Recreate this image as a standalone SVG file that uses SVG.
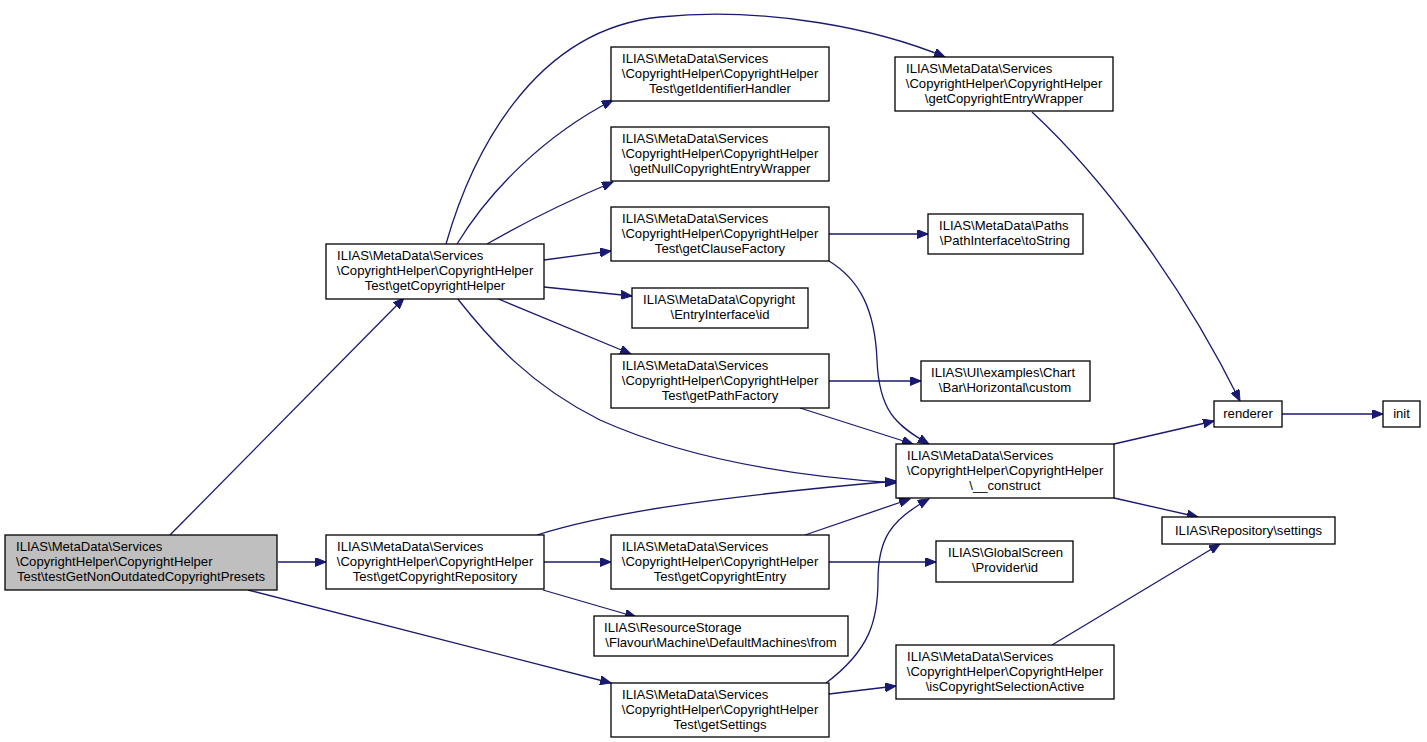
<svg xmlns="http://www.w3.org/2000/svg" width="1427" height="742" viewBox="0 0 1427 742">
<style>
.n rect{fill:#ffffff;stroke:#000000;stroke-width:1.3}
.n.sel rect{fill:#bfbfbf}
.n text{font-family:"Liberation Sans",Arial,Helvetica,sans-serif;font-size:13.1px;fill:#000000}
.s{text-anchor:start}
.m{text-anchor:middle}
#edges path{fill:none;stroke:#191970;stroke-width:1.3;marker-end:url(#arr)}
</style>
<defs>
<marker id="arr" markerUnits="userSpaceOnUse" markerWidth="12" markerHeight="9" refX="11" refY="4.5" orient="auto">
<path d="M0,0 L11,4.5 L0,9 z" fill="#191970" stroke="#191970" stroke-width="1"/>
</marker>
</defs>
<rect width="1427" height="742" fill="#ffffff"/>
<g id="edges">
<path d="M170,535 L404,298"/>
<path d="M278,562 L326,562"/>
<path d="M248,590 L611,683"/>
<path d="M446,244 C470,160 530,30 660,17 C770,6 880,30 945,57"/>
<path d="M457,244 C490,190 545,135 613,100"/>
<path d="M487,244 C520,225 570,200 613,182"/>
<path d="M544,260 L611,251"/>
<path d="M544,287 L632,296"/>
<path d="M496,298 L631,354"/>
<path d="M457,298 C490,340 530,385 600,420 C700,465 820,478 896,483"/>
<path d="M537,535 C600,515 700,498 896,481"/>
<path d="M544,562 L611,562"/>
<path d="M543,590 L636,617"/>
<path d="M829,234 L928,234"/>
<path d="M829,261 C860,280 875,310 877,360 C879,410 895,425 929,444"/>
<path d="M829,381 L921,381"/>
<path d="M800,408 L913,444"/>
<path d="M805,535 L910,499"/>
<path d="M826,683 C870,650 878,620 878,580 C878,540 890,520 929,499"/>
<path d="M829,562 L936,562"/>
<path d="M829,694 L896,686"/>
<path d="M1032,112 C1100,175 1180,280 1240,401"/>
<path d="M1114,444 L1214,421"/>
<path d="M1114,498 L1198,517"/>
<path d="M1052,645 L1220,544"/>
<path d="M1282,414 L1383,414"/>
</g>
<g id="n1" class="n sel"><rect x="5" y="535" width="272" height="55"/><text class="s" x="16" y="551">ILIAS\MetaData\Services</text><text class="s" x="16" y="566">\CopyrightHelper\CopyrightHelper</text><text class="m" x="141" y="581">Test\testGetNonOutdatedCopyrightPresets</text></g>
<g id="n2" class="n"><rect x="326" y="244" width="218" height="55"/><text class="s" x="337" y="260">ILIAS\MetaData\Services</text><text class="m" x="435" y="275">\CopyrightHelper\CopyrightHelper</text><text class="m" x="435" y="290">Test\getCopyrightHelper</text></g>
<g id="n3" class="n"><rect x="326" y="535" width="218" height="54"/><text class="s" x="337" y="551">ILIAS\MetaData\Services</text><text class="m" x="435" y="566">\CopyrightHelper\CopyrightHelper</text><text class="m" x="435" y="581">Test\getCopyrightRepository</text></g>
<g id="n4" class="n"><rect x="611" y="47" width="218" height="54"/><text class="s" x="622" y="63">ILIAS\MetaData\Services</text><text class="m" x="720" y="78">\CopyrightHelper\CopyrightHelper</text><text class="m" x="720" y="93">Test\getIdentifierHandler</text></g>
<g id="n5" class="n"><rect x="611" y="127" width="218" height="54"/><text class="s" x="622" y="143">ILIAS\MetaData\Services</text><text class="m" x="720" y="158">\CopyrightHelper\CopyrightHelper</text><text class="m" x="720" y="173">\getNullCopyrightEntryWrapper</text></g>
<g id="n6" class="n"><rect x="611" y="207" width="218" height="54"/><text class="s" x="622" y="223">ILIAS\MetaData\Services</text><text class="m" x="720" y="238">\CopyrightHelper\CopyrightHelper</text><text class="m" x="720" y="253">Test\getClauseFactory</text></g>
<g id="n7" class="n"><rect x="632" y="288" width="176" height="40"/><text class="s" x="643" y="304">ILIAS\MetaData\Copyright</text><text class="m" x="720" y="319">\EntryInterface\id</text></g>
<g id="n8" class="n"><rect x="611" y="354" width="218" height="54"/><text class="s" x="622" y="370">ILIAS\MetaData\Services</text><text class="m" x="720" y="385">\CopyrightHelper\CopyrightHelper</text><text class="m" x="720" y="400">Test\getPathFactory</text></g>
<g id="n9" class="n"><rect x="611" y="535" width="218" height="54"/><text class="s" x="622" y="551">ILIAS\MetaData\Services</text><text class="m" x="720" y="566">\CopyrightHelper\CopyrightHelper</text><text class="m" x="720" y="581">Test\getCopyrightEntry</text></g>
<g id="n10" class="n"><rect x="594" y="616" width="254" height="40"/><text class="s" x="604" y="632">ILIAS\ResourceStorage</text><text class="m" x="721" y="647">\Flavour\Machine\DefaultMachines\from</text></g>
<g id="n11" class="n"><rect x="611" y="683" width="218" height="54"/><text class="s" x="622" y="699">ILIAS\MetaData\Services</text><text class="m" x="720" y="714">\CopyrightHelper\CopyrightHelper</text><text class="m" x="720" y="729">Test\getSettings</text></g>
<g id="n12" class="n"><rect x="895" y="57" width="218" height="54"/><text class="s" x="906" y="73">ILIAS\MetaData\Services</text><text class="m" x="1004" y="88">\CopyrightHelper\CopyrightHelper</text><text class="m" x="1004" y="103">\getCopyrightEntryWrapper</text></g>
<g id="n13" class="n"><rect x="928" y="214" width="155" height="40"/><text class="s" x="939" y="230">ILIAS\MetaData\Paths</text><text class="m" x="1005" y="245">\PathInterface\toString</text></g>
<g id="n14" class="n"><rect x="921" y="361" width="169" height="40"/><text class="s" x="931" y="377">ILIAS\UI\examples\Chart</text><text class="m" x="1005" y="392">\Bar\Horizontal\custom</text></g>
<g id="n15" class="n"><rect x="896" y="444" width="218" height="54"/><text class="s" x="907" y="460">ILIAS\MetaData\Services</text><text class="m" x="1005" y="475">\CopyrightHelper\CopyrightHelper</text><text class="m" x="1005" y="490">\__construct</text></g>
<g id="n16" class="n"><rect x="936" y="541" width="137" height="41"/><text class="s" x="948" y="557">ILIAS\GlobalScreen</text><text class="m" x="1005" y="572">\Provider\id</text></g>
<g id="n17" class="n"><rect x="896" y="645" width="218" height="54"/><text class="s" x="907" y="661">ILIAS\MetaData\Services</text><text class="m" x="1005" y="676">\CopyrightHelper\CopyrightHelper</text><text class="m" x="1005" y="691">\isCopyrightSelectionActive</text></g>
<g id="n18" class="n"><rect x="1214" y="401" width="68" height="26"/><text class="m" x="1248" y="418">renderer</text></g>
<g id="n19" class="n"><rect x="1383" y="401" width="37" height="26"/><text class="m" x="1401.5" y="418">init</text></g>
<g id="n20" class="n"><rect x="1162" y="517" width="173" height="27"/><text class="m" x="1248.5" y="535">ILIAS\Repository\settings</text></g>
</svg>
